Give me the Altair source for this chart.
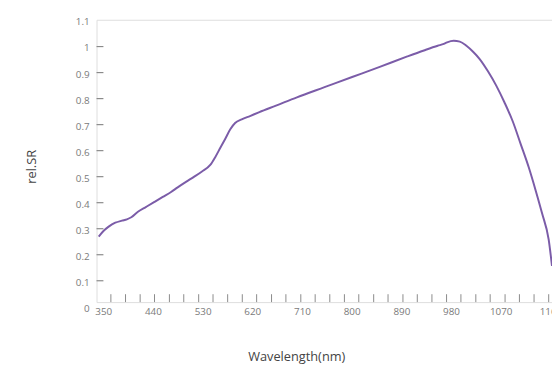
import altair as alt
import pandas as pd

# Spectral response curve
wavelength = [341, 350, 359, 371, 383, 392, 400, 412, 427, 442, 457, 472, 484, 499,
              514, 528, 543, 552, 561, 570, 579, 588, 600, 615, 632, 662, 700, 750,
              800, 850, 900, 930, 955, 966, 972, 984, 995, 1007, 1019, 1031, 1046,
              1061, 1076, 1091, 1105, 1120, 1132, 1144, 1156, 1162]
rel_sr = [0.270, 0.292, 0.308, 0.323, 0.331, 0.336, 0.344, 0.365, 0.384, 0.403,
          0.422, 0.441, 0.459, 0.480, 0.500, 0.520, 0.545, 0.575, 0.610, 0.645,
          0.681, 0.706, 0.720, 0.733, 0.748, 0.773, 0.805, 0.844, 0.883, 0.922,
          0.962, 0.985, 1.003, 1.010, 1.016, 1.022, 1.019, 1.003, 0.980, 0.952,
          0.905, 0.850, 0.785, 0.712, 0.627, 0.535, 0.450, 0.359, 0.258, 0.157]

x_labels = [350, 440, 530, 620, 710, 800, 890, 980, 1070, 1160]
x_label_text = ["350", "440", "530", "620", "710", "800", "890", "980", "1070", "1160"]
x_minor = [363, 389.5, 416, 442, 469, 495, 522, 548, 574.5, 601, 627, 654, 680, 707,
           733, 759.5, 786, 812, 839, 865, 892, 918, 944.5, 971, 997, 1024, 1050,
           1077, 1103, 1129.5, 1156]
y_labels = [0, 0.1, 0.2, 0.3, 0.4, 0.5, 0.6, 0.7, 0.8, 0.9, 1.0, 1.1]
y_label_text = ["0", "0.1", "0.2", "0.3", "0.4", "0.5", "0.6", "0.7", "0.8", "0.9", "1", "1.1"]
y_minor = [0.1, 0.2, 0.3, 0.4, 0.5, 0.6, 0.7, 0.8, 0.9, 1.0]

X_DOMAIN = [337, 1162]
Y_DOMAIN = [0.018, 1.103]
W, H = 463, 287
FONT = "Open Sans"
AXIS_COLOR = "#8a8a8a"
LABEL_COLOR = "#7a7a7a"

curve = pd.DataFrame({"wl": wavelength, "sr": rel_sr})
xs = alt.Scale(domain=X_DOMAIN, nice=False, zero=False)
ys = alt.Scale(domain=Y_DOMAIN, nice=False, zero=False)

line = alt.Chart(curve).mark_line(
    color="#7b5ca8", strokeWidth=2, interpolate="monotone"
).encode(
    x=alt.X("wl:Q", scale=xs, axis=alt.Axis(
        labels=False, ticks=False, domain=False, grid=False,
        title="Wavelength(nm)", titleFont=FONT, titleFontSize=13,
        titleFontWeight="normal", titleColor="#444444",
        titleX=203, titleY=55, titleBaseline="middle", titleAnchor="middle")),
    y=alt.Y("sr:Q", scale=ys, axis=alt.Axis(
        labels=False, ticks=False, domain=False, grid=False,
        title="rel.SR", titleFont=FONT, titleFontSize=13, titleFontWeight="normal",
        titleColor="#444444", titleX=-66, titleY=149, titleBaseline="middle",
        titleAngle=270)),
)

ylab = alt.Chart(pd.DataFrame({"v": y_labels, "t": y_label_text})).mark_text(
    align="right", baseline="middle", font=FONT, fontSize=10, color=LABEL_COLOR,
    dy=2
).encode(y=alt.Y("v:Q", scale=ys), x=alt.value(-7), text="t:N")

xlab = alt.Chart(pd.DataFrame({"v": x_labels, "t": x_label_text})).mark_text(
    align="center", baseline="middle", font=FONT, fontSize=10, color=LABEL_COLOR
).encode(x=alt.X("v:Q", scale=xs), y=alt.value(H + 10), text="t:N")

xticks = alt.Chart(pd.DataFrame({"t": x_minor})).mark_rule(
    color=AXIS_COLOR, strokeWidth=1
).encode(x=alt.X("t:Q", scale=xs), y=alt.value(H - 8), y2=alt.value(H))

yticks = alt.Chart(pd.DataFrame({"t": y_minor})).mark_rule(
    color=AXIS_COLOR, strokeWidth=1.2
).encode(y=alt.Y("t:Q", scale=ys), x=alt.value(0), x2=alt.value(7))

chart = alt.layer(line, xticks, yticks, ylab, xlab).properties(
    width=W, height=H,
    autosize=alt.AutoSizeParams(type="none"),
    padding={"left": 90, "top": 9, "right": 0, "bottom": 61},
).configure_view(
    stroke=AXIS_COLOR, strokeWidth=1.5
).configure(background="white")

chart.save("out.html", embed_options={"renderer": "svg", "actions": False})
